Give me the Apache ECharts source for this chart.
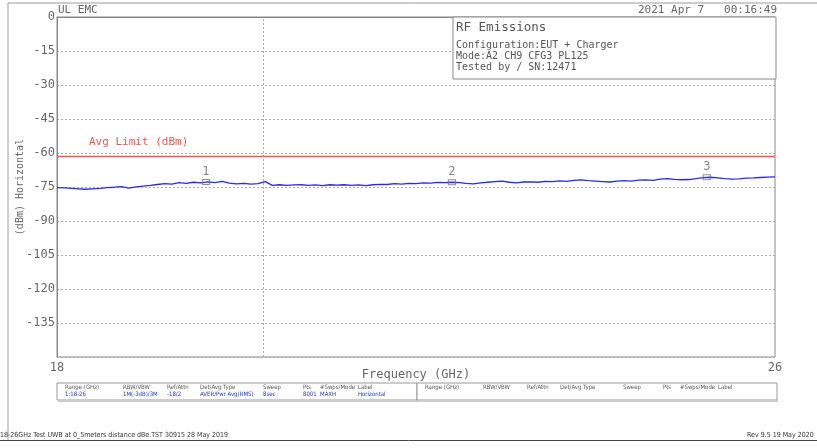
<!DOCTYPE html>
<html>
<head>
<meta charset="utf-8">
<script src="https://cdn.jsdelivr.net/npm/echarts@6/dist/echarts.min.js"></script>
<style>
  html, body { margin: 0; padding: 0; background: #fff; }
  #chart { width: 817px; height: 448px; }
</style>
</head>
<body>
<div id="chart"></div>
<script>
// Spectrum trace: frequency (GHz) and average level (dBm)
const freqGHz = [
  18.00, 18.08, 18.16, 18.24, 18.32, 18.40, 18.48, 18.56, 18.64, 18.72,
  18.80, 18.88, 18.96, 19.04, 19.12, 19.20, 19.28, 19.36, 19.44, 19.52,
  19.60, 19.68, 19.76, 19.84, 19.92, 20.00, 20.08, 20.16, 20.24, 20.32,
  20.40, 20.48, 20.56, 20.64, 20.72, 20.80, 20.88, 20.96, 21.04, 21.12,
  21.20, 21.28, 21.36, 21.44, 21.52, 21.60, 21.68, 21.76, 21.84, 21.92,
  22.00, 22.08, 22.16, 22.24, 22.32, 22.40, 22.48, 22.56, 22.64, 22.72,
  22.80, 22.88, 22.96, 23.04, 23.12, 23.20, 23.28, 23.36, 23.44, 23.52,
  23.60, 23.68, 23.76, 23.84, 23.92, 24.00, 24.08, 24.16, 24.24, 24.32,
  24.40, 24.48, 24.56, 24.64, 24.72, 24.80, 24.88, 24.96, 25.04, 25.12,
  25.20, 25.28, 25.36, 25.44, 25.52, 25.60, 25.68, 25.76, 25.84, 25.92,
  26.00
];
const levelDbm = [
  -75.3, -75.4, -75.6, -75.8, -76.0, -75.8, -75.6, -75.3, -75.1, -74.8,
  -75.5, -74.9, -74.6, -74.3, -73.9, -73.5, -73.7, -73.1, -73.4, -72.9,
  -73.2, -72.7, -73.1, -72.5, -73.3, -73.6, -73.4, -73.7, -73.5, -72.6,
  -74.3, -74.0, -74.3, -74.1, -74.0, -74.3, -74.1, -74.4, -74.0, -74.2,
  -74.0, -74.3, -74.1, -74.4, -74.0, -73.8, -73.9, -73.5, -73.7, -73.4,
  -73.5, -73.2, -73.3, -73.0, -73.1, -72.9, -73.1, -73.4, -73.6, -73.2,
  -72.9, -72.6, -72.4, -72.9, -73.2, -72.8, -72.7, -72.9, -72.5, -72.6,
  -72.3, -72.5, -72.1, -71.9, -72.2, -72.4, -72.6, -72.8, -72.4, -72.2,
  -72.4, -72.0, -71.9, -72.1, -71.5, -71.3, -71.6, -71.8, -71.7, -71.3,
  -70.9, -70.7, -71.0, -71.3, -71.5, -71.4, -71.1, -71.0, -70.8, -70.6,
  -70.5
];

// Markers
const markerIds = ['1', '2', '3'];
const markerFreq = [19.66, 22.40, 25.24];
const markerLevel = [-72.8, -72.9, -70.7];

// Limit and reference lines
const avgLimitDbm = -61.3;
const refLineGHz = 20.3;

// Axis ticks
const yTicks = [0, -15, -30, -45, -60, -75, -90, -105, -120, -135];

// Sweep settings table
const tableHeaders = ['Range (GHz)', 'RBW/VBW', 'Ref/Attn', 'Det/Avg Type', 'Sweep', 'Pts', '#Swps/Mode', 'Label'];
const tableValues = ['1:18-26', '1M(-3dB)/3M', '-18/2', 'AVER/Pwr Avg(RMS)', '8sec', '8001', 'MAXH', 'Horizontal'];

const FONT = '"DejaVu Sans Mono", monospace';
const SMALL = '6px "DejaVu Sans Condensed", "Liberation Sans Narrow", "DejaVu Sans", sans-serif';
const GREY = '#666';
const chart = echarts.init(document.getElementById('chart'), null, { renderer: 'canvas' });

const trace = freqGHz.map((f, i) => [f, levelDbm[i]]);
const markers = markerFreq.map((f, i) => ({ value: [f, markerLevel[i]], name: markerIds[i] }));

// Table graphics
const colOffsets = [8, 66, 110, 143, 206, 246, 263, 301];
const tableGraphics = [];
[57, 417].forEach((bx, b) => {
  tableGraphics.push({
    type: 'rect', shape: { x: bx, y: 383, width: 360, height: 17 },
    style: { fill: '#fff', stroke: '#999', lineWidth: 1 }, z: 10
  });
  tableGraphics.push({
    type: 'line', shape: { x1: bx + 1, y1: 401, x2: bx + 361, y2: 401 },
    style: { stroke: '#ccc', lineWidth: 2 }, z: 10
  });
  tableHeaders.forEach((h, i) => {
    tableGraphics.push({
      type: 'text', x: bx + colOffsets[i], y: 384, z: 11,
      style: { text: h, fill: '#555', font: SMALL }
    });
    if (b === 0) {
      tableGraphics.push({
        type: 'text', x: bx + colOffsets[i], y: 391, z: 11,
        style: { text: tableValues[i], fill: '#2233cc', font: SMALL }
      });
    }
  });
});

const option = {
  animation: false,
  backgroundColor: '#fff',
  grid: {
    left: 57, top: 17, width: 718, height: 340,
    containLabel: false, outerBoundsMode: 'none',
    show: true, borderColor: '#888', borderWidth: 1
  },
  xAxis: {
    type: 'value', min: 18, max: 26, interval: 8,
    name: 'Frequency (GHz)', nameLocation: 'middle', nameGap: 12, nameMoveOverlap: false,
    nameTextStyle: { fontFamily: FONT, fontSize: 12, color: GREY },
    axisLine: { show: true, lineStyle: { color: '#888' } },
    axisTick: { show: false },
    axisLabel: { fontFamily: FONT, fontSize: 12, color: GREY, margin: 5 },
    splitLine: { show: false }
  },
  yAxis: {
    type: 'value', min: -150, max: 0, interval: 15,
    name: '(dBm) Horizontal', nameLocation: 'middle', nameGap: 32, nameRotate: 90, nameMoveOverlap: false,
    nameTextStyle: { fontFamily: FONT, fontSize: 10, color: GREY },
    axisLine: { show: true, lineStyle: { color: '#888' } },
    axisTick: { show: false },
    axisLabel: {
      fontFamily: FONT, fontSize: 12, color: GREY, margin: 2,
      formatter: v => (yTicks.indexOf(v) >= 0 ? String(v) : '')
    },
    splitLine: { show: true, lineStyle: { color: '#aaa', type: [2, 2], width: 1 } }
  },
  series: [
    {
      type: 'line', data: trace, showSymbol: false, symbol: 'none',
      lineStyle: { color: '#2a2ae8', width: 1.3 }, z: 3,
      markLine: {
        silent: true, symbol: 'none', animation: false,
        data: [
          { xAxis: refLineGHz, lineStyle: { color: '#aaa', type: [2, 2], width: 1 }, label: { show: false } },
          { yAxis: avgLimitDbm, lineStyle: { color: '#f05555', type: 'solid', width: 1.3 }, label: { show: false } }
        ]
      }
    },
    {
      type: 'scatter', data: markers, symbol: 'rect', symbolSize: [7, 5],
      itemStyle: { color: 'rgba(255,255,255,0)', borderColor: '#777', borderWidth: 1 },
      label: {
        show: true, position: 'top', distance: 1, formatter: p => p.name,
        fontFamily: FONT, fontSize: 12, color: GREY
      },
      z: 4
    }
  ],
  graphic: [
    // outer frame
    { type: 'line', shape: { x1: 8, y1: 3, x2: 817, y2: 3 }, style: { stroke: '#999', lineWidth: 1 } },
    { type: 'line', shape: { x1: 8, y1: 3, x2: 8, y2: 440 }, style: { stroke: '#999', lineWidth: 1 } },
    { type: 'line', shape: { x1: 0, y1: 440.5, x2: 817, y2: 440.5 }, style: { stroke: '#444', lineWidth: 1 } },
    { type: 'text', x: 58, y: 5, style: { text: 'UL EMC', fill: GREY, font: '11px ' + FONT } },
    { type: 'text', x: 777, y: 5, style: { text: '2021 Apr 7   00:16:49', fill: GREY, font: '11px ' + FONT, align: 'right' } },
    // info box
    { type: 'rect', z: 10, shape: { x: 453, y: 17, width: 323, height: 62 }, style: { fill: '#fff', stroke: '#888', lineWidth: 1 } },
    { type: 'text', z: 11, x: 456, y: 21, style: { text: 'RF Emissions', fill: '#555', font: '12.5px ' + FONT } },
    { type: 'text', z: 11, x: 456, y: 40, style: { text: 'Configuration:EUT + Charger', fill: '#555', font: '10px ' + FONT } },
    { type: 'text', z: 11, x: 456, y: 51, style: { text: 'Mode:A2 CH9 CFG3 PL125', fill: '#555', font: '10px ' + FONT } },
    { type: 'text', z: 11, x: 456, y: 62, style: { text: 'Tested by / SN:12471', fill: '#555', font: '10px ' + FONT } },
    // limit caption
    { type: 'text', x: 89, y: 137, style: { text: 'Avg Limit (dBm)', fill: '#f05555', font: '11px ' + FONT } },
    // footer
    { type: 'text', x: 0, y: 432, style: { text: '18-26GHz Test UWB at 0_5meters distance dBe.TST 30915 28 May 2019', fill: '#333', font: '7px "DejaVu Sans Condensed", "DejaVu Sans", sans-serif' } },
    { type: 'text', x: 747, y: 432, style: { text: 'Rev 9.5 19 May 2020', fill: '#333', font: '7px "DejaVu Sans Condensed", "DejaVu Sans", sans-serif' } }
  ].concat(tableGraphics)
};

chart.setOption(option);
</script>
</body>
</html>
